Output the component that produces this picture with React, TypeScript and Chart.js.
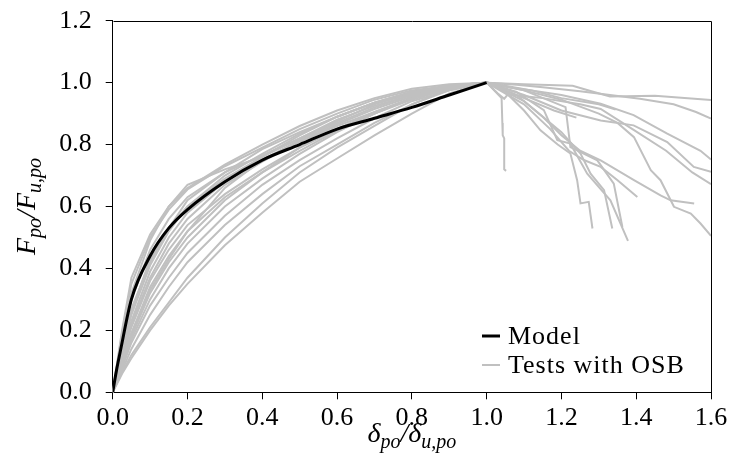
import React, { useEffect, useRef } from 'react';
import { Chart, registerables } from 'chart.js';

Chart.register(...registerables);

// ---------- data ----------
const xTickValues = [0, 0.2, 0.4, 0.6, 0.8, 1.0, 1.2, 1.4, 1.6];
const yTickValues = [0, 0.2, 0.4, 0.6, 0.8, 1.0, 1.2];

const legendLabels = ['Model', 'Tests with OSB'];

const modelX = [0, 0.01, 0.02, 0.05, 0.1, 0.15, 0.2, 0.3, 0.4, 0.5, 0.6, 0.7, 0.8, 0.9, 1.0];
const modelY = [0, 0.07, 0.13, 0.3, 0.44, 0.53, 0.59, 0.68, 0.75, 0.8, 0.85, 0.885, 0.92, 0.96, 1.0];

// pre-peak branch of each test (shared x positions)
const riseX = [0, 0.025, 0.05, 0.1, 0.15, 0.2, 0.3, 0.4, 0.5, 0.6, 0.7, 0.8, 0.9, 1.0];
const riseY: number[][] = [
  [0, 0.2, 0.37, 0.51, 0.6, 0.66, 0.735, 0.8, 0.86, 0.91, 0.95, 0.98, 0.995, 1],
  [0, 0.19, 0.35, 0.5, 0.59, 0.655, 0.73, 0.79, 0.85, 0.9, 0.945, 0.975, 0.99, 1],
  [0, 0.17, 0.32, 0.49, 0.6, 0.67, 0.72, 0.76, 0.83, 0.89, 0.935, 0.97, 0.99, 1],
  [0, 0.16, 0.3, 0.46, 0.56, 0.63, 0.71, 0.785, 0.84, 0.89, 0.935, 0.97, 0.99, 1],
  [0, 0.15, 0.27, 0.42, 0.53, 0.62, 0.71, 0.765, 0.82, 0.875, 0.93, 0.965, 0.99, 1],
  [0, 0.13, 0.25, 0.41, 0.52, 0.6, 0.69, 0.76, 0.82, 0.88, 0.925, 0.96, 0.985, 1],
  [0, 0.12, 0.23, 0.39, 0.5, 0.58, 0.68, 0.75, 0.815, 0.87, 0.92, 0.96, 0.985, 1],
  [0, 0.11, 0.22, 0.37, 0.48, 0.56, 0.67, 0.745, 0.81, 0.865, 0.915, 0.955, 0.985, 1],
  [0, 0.09, 0.19, 0.33, 0.43, 0.52, 0.66, 0.75, 0.81, 0.86, 0.905, 0.95, 0.985, 1],
  [0, 0.09, 0.18, 0.32, 0.42, 0.5, 0.62, 0.71, 0.79, 0.85, 0.905, 0.95, 0.98, 1],
  [0, 0.08, 0.17, 0.3, 0.4, 0.48, 0.6, 0.69, 0.77, 0.84, 0.9, 0.95, 0.98, 1],
  [0, 0.08, 0.16, 0.28, 0.37, 0.45, 0.57, 0.67, 0.75, 0.82, 0.885, 0.94, 0.975, 1],
  [0, 0.07, 0.14, 0.25, 0.34, 0.42, 0.54, 0.64, 0.73, 0.8, 0.87, 0.93, 0.975, 1],
  [0, 0.065, 0.12, 0.21, 0.29, 0.37, 0.5, 0.61, 0.71, 0.79, 0.86, 0.93, 0.98, 1],
  [0, 0.06, 0.11, 0.2, 0.28, 0.35, 0.475, 0.58, 0.68, 0.755, 0.83, 0.9, 0.965, 1],
  [0, 0.14, 0.26, 0.43, 0.53, 0.6, 0.7, 0.77, 0.835, 0.89, 0.935, 0.97, 0.99, 1],
  [0, 0.11, 0.21, 0.36, 0.46, 0.54, 0.64, 0.72, 0.79, 0.85, 0.9, 0.95, 0.985, 1],
  [0, 0.1, 0.19, 0.34, 0.44, 0.52, 0.63, 0.71, 0.78, 0.845, 0.9, 0.945, 0.98, 1],
];

// post-peak branch of each test
const fallX: number[][] = [
  [1.1, 1.23, 1.28, 1.33, 1.45, 1.6],
  [1.08, 1.15, 1.25, 1.33, 1.41, 1.5, 1.56, 1.6],
  [1.1, 1.18, 1.24],
  [1.06, 1.12, 1.2, 1.305, 1.393, 1.483, 1.572, 1.6],
  [1.02, 1.04, 1.042, 1.043, 1.047, 1.047, 1.052],
  [1.03, 1.047, 1.057, 1.15, 1.25, 1.305, 1.39, 1.48, 1.55, 1.6],
  [1.05, 1.1, 1.144, 1.19, 1.224, 1.242, 1.251, 1.273, 1.283],
  [1.05, 1.1, 1.2, 1.305, 1.393, 1.483, 1.554, 1.6],
  [1.1, 1.211, 1.224, 1.296, 1.34, 1.363],
  [1.08, 1.15, 1.2, 1.25, 1.305, 1.394, 1.465, 1.492, 1.555],
  [1.08, 1.153, 1.189, 1.224, 1.269, 1.331, 1.378],
  [1.1, 1.2, 1.3, 1.35, 1.394, 1.439, 1.465, 1.501, 1.546, 1.572, 1.6],
  [1.1, 1.2, 1.251, 1.278, 1.314, 1.336],
  [1.1, 1.17, 1.22, 1.26, 1.305, 1.35, 1.403],
  [1.05, 1.12, 1.2, 1.3, 1.345],
  [1.02, 1.05],
  [1.04],
  [1.03],
];
const fallY: number[][] = [
  [0.995, 0.99, 0.972, 0.955, 0.958, 0.944],
  [0.993, 0.985, 0.972, 0.96, 0.948, 0.93, 0.905, 0.884],
  [0.95, 0.91, 0.887],
  [0.985, 0.975, 0.96, 0.932, 0.895, 0.835, 0.78, 0.752],
  [0.975, 0.95, 0.87, 0.83, 0.82, 0.72, 0.715],
  [0.965, 0.948, 0.962, 0.95, 0.93, 0.915, 0.85, 0.78, 0.71, 0.672],
  [0.97, 0.91, 0.846, 0.8, 0.771, 0.685, 0.61, 0.615, 0.529],
  [0.98, 0.96, 0.91, 0.878, 0.862, 0.808, 0.728, 0.712],
  [0.975, 0.921, 0.792, 0.749, 0.674, 0.534],
  [0.96, 0.89, 0.83, 0.78, 0.749, 0.685, 0.636, 0.62, 0.61],
  [0.97, 0.911, 0.814, 0.803, 0.706, 0.62, 0.489],
  [0.975, 0.945, 0.9, 0.87, 0.824, 0.717, 0.685, 0.599, 0.577, 0.545, 0.505],
  [0.94, 0.84, 0.771, 0.706, 0.653, 0.529],
  [0.93, 0.85, 0.78, 0.75, 0.728, 0.685, 0.631],
  [0.99, 0.975, 0.95, 0.93, 0.913],
  [0.99, 0.97],
  [0.99],
  [0.985],
];

// ---------- styling ----------
const W = 731;
const H = 469;
const FONT = '"Liberation Serif", "Times New Roman", serif';
const GRAY = '#c0c0c0';
const AREA = { left: 112.7, right: 711, top: 20.7, bottom: 392.3 };

type Part = { t: string; sub?: boolean };
const yTitle: Part[] = [{ t: 'F' }, { t: 'po', sub: true }, { t: '/' }, { t: 'F' }, { t: 'u,po', sub: true }];
const xTitle: Part[] = [{ t: 'δ' }, { t: 'po', sub: true }, { t: '/' }, { t: 'δ' }, { t: 'u,po', sub: true }];

function drawMath(ctx: CanvasRenderingContext2D, parts: Part[], cx: number, baseY: number, size: number) {
  const main = `italic ${size}px ${FONT}`;
  const sub = `italic ${Math.round(size * 0.7)}px ${FONT}`;
  let w = 0;
  const widths: number[] = [];
  for (const p of parts) {
    ctx.font = p.sub ? sub : main;
    const m = ctx.measureText(p.t).width;
    widths.push(m);
    w += m;
  }
  let x = cx - w / 2;
  ctx.textAlign = 'left';
  ctx.textBaseline = 'alphabetic';
  parts.forEach((p, i) => {
    ctx.font = p.sub ? sub : main;
    ctx.fillText(p.t, x, p.sub ? baseY + size * 0.22 : baseY);
    x += widths[i];
  });
}

const decorPlugin = {
  id: 'decor',
  afterDraw(chart: any) {
    const ctx: CanvasRenderingContext2D = chart.ctx;
    const a = chart.chartArea;
    ctx.save();
    // box top & right
    ctx.strokeStyle = '#000';
    ctx.lineWidth = 1;
    ctx.beginPath();
    ctx.moveTo(Math.round(a.left) + 0.5, Math.round(a.top) + 0.5);
    ctx.lineTo(Math.round(a.right) + 0.5, Math.round(a.top) + 0.5);
    ctx.lineTo(Math.round(a.right) + 0.5, Math.round(a.bottom) + 0.5);
    ctx.stroke();

    // axis titles
    ctx.fillStyle = '#000';
    drawMath(ctx, xTitle, (a.left + a.right) / 2, 442, 28);
    ctx.save();
    ctx.translate(35, (a.top + a.bottom) / 2);
    ctx.rotate(-Math.PI / 2);
    drawMath(ctx, yTitle, 0, 0, 28);
    ctx.restore();

    // legend
    const items = [
      { label: legendLabels[0], color: '#000', width: 3, y: 336 },
      { label: legendLabels[1], color: GRAY, width: 2, y: 365 },
    ];
    ctx.font = `26px ${FONT}`;
    ctx.textAlign = 'left';
    ctx.textBaseline = 'middle';
    try { (ctx as any).letterSpacing = '1px'; } catch (e) { /* ignore */ }
    for (const it of items) {
      ctx.strokeStyle = it.color;
      ctx.lineWidth = it.width;
      ctx.beginPath();
      ctx.moveTo(482, it.y);
      ctx.lineTo(500, it.y);
      ctx.stroke();
      ctx.fillStyle = '#000';
      ctx.fillText(it.label, 508, it.y + 1);
    }
    ctx.restore();
  },
};

export default function App() {
  const ref = useRef<HTMLCanvasElement | null>(null);

  useEffect(() => {
    if (!ref.current) return;

    const testSets = riseY.map((ys, i) => {
      const pts = riseX.map((x, j) => ({ x, y: ys[j] }));
      fallX[i].forEach((x, j) => pts.push({ x, y: fallY[i][j] }));
      return {
        label: legendLabels[1],
        data: pts,
        borderColor: GRAY,
        borderWidth: 2,
        pointRadius: 0,
        tension: 0,
        fill: false,
        order: 1,
      };
    });

    const modelSet = {
      label: legendLabels[0],
      data: modelX.map((x, i) => ({ x, y: modelY[i] })),
      borderColor: '#000',
      borderWidth: 3,
      pointRadius: 0,
      cubicInterpolationMode: 'monotone' as const,
      fill: false,
      order: 0,
    };

    const tickFont = { family: FONT, size: 26 };

    const chart = new Chart(ref.current, {
      type: 'line',
      data: { datasets: [modelSet as any, ...testSets] },
      options: {
        responsive: false,
        animation: false,
        devicePixelRatio: 1,
        events: [],
        layout: { padding: { left: 0, top: AREA.top, right: W - AREA.right, bottom: 0 } },
        plugins: { legend: { display: false }, tooltip: { enabled: false }, title: { display: false } },
        scales: {
          x: {
            type: 'linear',
            min: 0,
            max: 1.6,
            afterBuildTicks: (axis: any) => {
              axis.ticks = xTickValues.map((v) => ({ value: v }));
            },
            afterFit: (s: any) => {
              s.height = H - AREA.bottom;
              s.paddingLeft = 0;
              s.paddingRight = 0;
            },
            ticks: {
              color: '#000',
              font: tickFont,
              padding: 3,
              maxRotation: 0,
              autoSkip: false,
              callback: (v: any) => Number(v).toFixed(1),
            },
            grid: { drawOnChartArea: false, drawTicks: true, tickLength: 7, color: '#000', lineWidth: 1 },
            border: { display: true, color: '#000', width: 1 },
          },
          y: {
            type: 'linear',
            min: 0,
            max: 1.2,
            afterBuildTicks: (axis: any) => {
              axis.ticks = yTickValues.map((v) => ({ value: v }));
            },
            afterFit: (s: any) => {
              s.width = AREA.left;
              s.paddingTop = 0;
              s.paddingBottom = 0;
            },
            ticks: {
              color: '#000',
              font: tickFont,
              padding: 14,
              autoSkip: false,
              callback: (v: any) => Number(v).toFixed(1),
            },
            grid: { drawOnChartArea: false, drawTicks: true, tickLength: 7, color: '#000', lineWidth: 1 },
            border: { display: true, color: '#000', width: 1 },
          },
        },
      },
      plugins: [decorPlugin],
    });

    return () => chart.destroy();
  }, []);

  return (
    <div style={{ position: 'absolute', left: 0, top: 0, width: W, height: H, background: '#fff' }}>
      <canvas ref={ref} width={W} height={H} style={{ display: 'block', width: W, height: H }} />
    </div>
  );
}
